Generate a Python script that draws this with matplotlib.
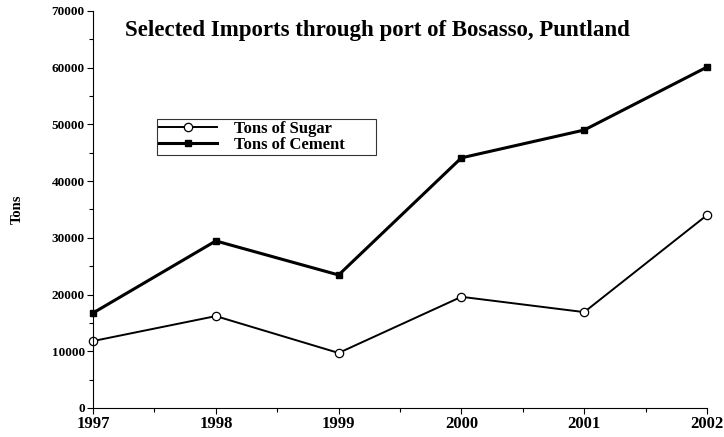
import matplotlib.pyplot as plt
from matplotlib.ticker import MultipleLocator

years = [1997, 1998, 1999, 2000, 2001, 2002]
sugar = [11800, 16200, 9700, 19600, 16900, 34000]
cement = [16750, 29450, 23450, 44100, 49000, 60100]

plt.rcParams['font.family'] = ['Liberation Serif', 'DejaVu Serif']
plt.rcParams['font.weight'] = 'bold'

fig = plt.figure(figsize=(7.24, 4.37), dpi=100)
ax = fig.add_axes([0.1285, 0.0664, 0.848, 0.9086])

ax.plot(years, sugar, color='black', lw=1.4, marker='o', ms=6,
        mfc='white', mec='black', mew=0.9, label='Tons of Sugar       ', clip_on=False)
ax.plot(years, cement, color='black', lw=2.2, marker='s', ms=5,
        mfc='black', mec='black', label='Tons of Cement       ', clip_on=False)

ax.set_xlim(1997, 2002)
ax.set_ylim(0, 70000)
ax.set_xticks(years)
ax.xaxis.set_minor_locator(MultipleLocator(0.5))
ax.yaxis.set_major_locator(MultipleLocator(10000))
ax.yaxis.set_minor_locator(MultipleLocator(5000))
for s in ['top', 'right']:
    ax.spines[s].set_visible(False)
for s in ['left', 'bottom']:
    ax.spines[s].set_linewidth(0.8)
ax.tick_params(axis='both', which='major', direction='out', length=4, width=0.8)
ax.tick_params(axis='both', which='minor', direction='out', length=3, width=0.8)
ax.tick_params(axis='y', labelsize=9.5, pad=2)
ax.tick_params(axis='x', labelsize=12, pad=2)
for lab in ax.get_xticklabels() + ax.get_yticklabels():
    lab.set_fontweight('bold')

ax.set_ylabel('Tons', fontsize=10.5, fontweight='bold', labelpad=20)

fig.text(0.521, 0.931, 'Selected Imports through port of Bosasso, Puntland',
         ha='center', va='center', fontsize=16.5, fontweight='bold')

leg = ax.legend(loc='upper left', bbox_to_anchor=(0.104, 0.728), frameon=True,
                fancybox=False, edgecolor='black', handlelength=3.5,
                borderpad=0.12, labelspacing=0.0, handletextpad=1.0,
                borderaxespad=0, prop={'weight': 'bold', 'size': 12})
leg.get_frame().set_linewidth(0.8)

fig.savefig('out.png', dpi=100)
